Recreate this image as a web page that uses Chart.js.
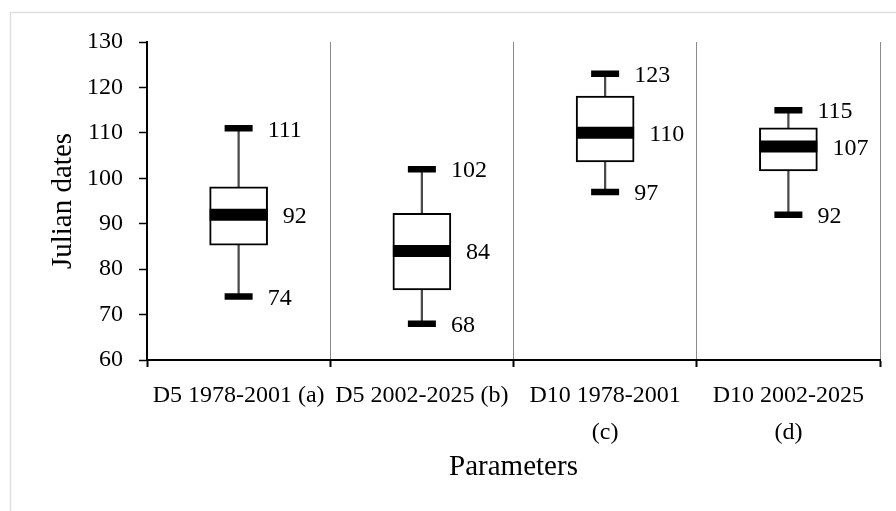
<!DOCTYPE html>
<html>
<head>
<meta charset="utf-8">
<script src="https://cdn.jsdelivr.net/npm/chart.js@4"></script>
<style>
  body { margin: 0; background: #fff; }
</style>
</head>
<body>
<canvas id="boxChart" width="896" height="511"></canvas>
<script>
// categories (c) and (d) wrap onto two lines like in the original
const categories = ['D5 1978-2001 (a)', 'D5 2002-2025 (b)', ['D10 1978-2001', '(c)'], ['D10 2002-2025', '(d)']];
const minVals = [74, 68, 97, 92];
const q1Vals = [85.3, 75.4, 103.6, 101.6];
const medianVals = [92, 84, 110, 107];
const q3Vals = [98.1, 92.3, 118.1, 111.1];
const maxVals = [111, 102, 123, 115];
const yTicks = [60, 70, 80, 90, 100, 110, 120, 130];

const fontFam = '"Liberation Serif", "Times New Roman", serif';

// grey frame round the chart area (only top and left show in the picture)
const framePlugin = {
  id: 'frame',
  beforeDraw(chart) {
    const c = chart.ctx;
    c.save();
    c.strokeStyle = '#dedede';
    c.lineWidth = 1.5;
    c.strokeRect(10.5, 12.5, 920, 540);
    c.restore();
  }
};

// value labels next to whisker caps and medians
const labelPlugin = {
  id: 'boxLabels',
  afterDatasetsDraw(chart) {
    const c = chart.ctx;
    const x = chart.scales.x;
    const y = chart.scales.y;
    c.save();
    c.font = '24px ' + fontFam;
    c.fillStyle = '#000';
    c.textAlign = 'left';
    c.textBaseline = 'middle';
    for (let i = 0; i < categories.length; i++) {
      const xc = x.getPixelForValue(i);
      c.fillText(String(maxVals[i]), xc + 29, y.getPixelForValue(maxVals[i]) + 2);
      c.fillText(String(medianVals[i]), xc + 44, y.getPixelForValue(medianVals[i]) + 2);
      c.fillText(String(minVals[i]), xc + 29, y.getPixelForValue(minVals[i]) + 2);
    }
    c.restore();
  }
};

new Chart(document.getElementById('boxChart'), {
  type: 'bar',
  data: {
    labels: categories,
    datasets: [
      {
        // whisker line min -> max
        label: 'whisker',
        data: minVals.map((v, i) => [v, maxVals[i]]),
        backgroundColor: '#4a4a4a',
        borderWidth: 0,
        barThickness: 1.6,
        grouped: false,
        order: 3
      },
      {
        // box q1 -> q3
        label: 'box',
        data: q1Vals.map((v, i) => [v, q3Vals[i]]),
        backgroundColor: '#ffffff',
        borderColor: '#000000',
        borderWidth: 2,
        borderSkipped: false,
        barThickness: 58,
        grouped: false,
        order: 2
      },
      {
        type: 'line',
        label: 'median',
        data: medianVals,
        showLine: false,
        pointStyle: 'line',
        pointRadius: 29,
        pointBorderWidth: 12,
        pointBorderColor: '#000',
        order: 1
      },
      {
        type: 'line',
        label: 'max',
        data: maxVals,
        showLine: false,
        pointStyle: 'line',
        pointRadius: 14,
        pointBorderWidth: 6.5,
        pointBorderColor: '#000',
        order: 0
      },
      {
        type: 'line',
        label: 'min',
        data: minVals,
        showLine: false,
        pointStyle: 'line',
        pointRadius: 14,
        pointBorderWidth: 6.5,
        pointBorderColor: '#000',
        order: 0
      }
    ]
  },
  options: {
    responsive: false,
    animation: false,
    events: [],
    layout: { autoPadding: false, padding: { left: 0, right: 16, top: 42, bottom: 0 } },
    plugins: {
      legend: { display: false },
      tooltip: { enabled: false }
    },
    scales: {
      x: {
        offset: true,
        grid: {
          offset: true,
          drawOnChartArea: true,
          color: ctx => ctx.index === 0 ? 'rgba(0,0,0,0)' : '#8a8a8a',
          lineWidth: 1,
          tickColor: '#000',
          tickWidth: 2,
          tickLength: 7
        },
        border: { display: true, color: '#000', width: 2 },
        ticks: {
          color: '#000',
          font: { family: fontFam, size: 24, lineHeight: 1.55 },
          padding: 10,
          maxRotation: 0,
          autoSkip: false
        },
        title: {
          display: true,
          text: 'Parameters',
          color: '#000',
          font: { family: fontFam, size: 29 },
          padding: { top: 0, bottom: 26 }
        },
        afterFit(scale) {
          scale.height = 151;
          scale.paddingLeft = 0;
          scale.paddingRight = 0;
        }
      },
      y: {
        min: 60,
        max: 130,
        afterBuildTicks(scale) { scale.ticks = yTicks.map(v => ({ value: v })); },
        grid: {
          drawOnChartArea: false,
          color: '#000',
          tickColor: '#000',
          tickWidth: 1.5,
          tickLength: 8
        },
        border: { display: true, color: '#000', width: 2 },
        ticks: {
          color: '#000',
          font: { family: fontFam, size: 24 },
          padding: 16
        },
        title: {
          display: true,
          text: 'Julian dates',
          color: '#000',
          font: { family: fontFam, size: 29 },
          padding: { top: 46, bottom: 0 }
        },
        afterFit(scale) { scale.width = 147; }
      }
    }
  },
  plugins: [framePlugin, labelPlugin]
});
</script>
</body>
</html>
